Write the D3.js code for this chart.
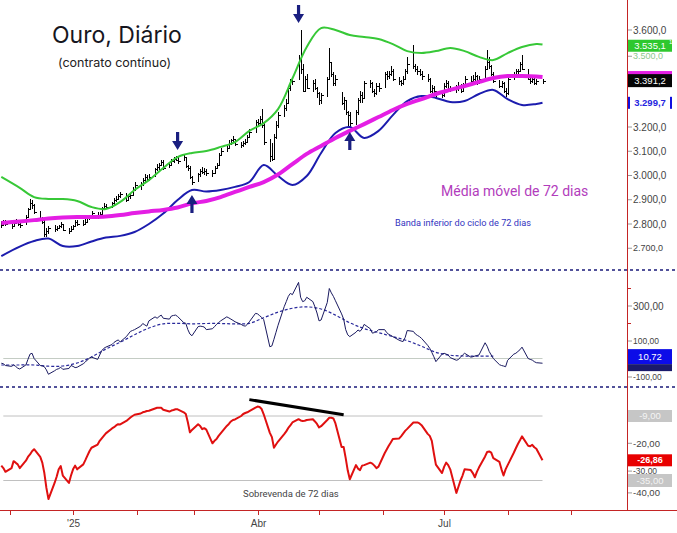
<!DOCTYPE html>
<html><head><meta charset="utf-8">
<script src="https://cdn.jsdelivr.net/npm/d3@7"></script>
<style>body{margin:0;background:#fff}svg{display:block}</style>
</head><body><svg id="c" width="677" height="533"></svg>
<script>
// ---------------- DATA ----------------
const firstDay = "2024-11-27", lastDay = "2025-08-18";   // daily bars (weekdays)
const high = [2812,2815,2818,2808,2815,2822,2815,2808,2838,2866,
 2902,2898,2882,2852,2828,2818,2782,2792,2795,2792,
 2796,2808,2802,2782,2790,2795,2818,2815,2815,2820,
 2832,2838,2852,2848,2848,2872,2885,2882,2892,2908,
 2915,2922,2932,2928,2920,2928,2952,2972,2975,2988,
 3005,3002,3005,3032,3048,3052,3065,3062,3052,3068,
 3078,3082,3075,3090,3078,3045,3038,3000,3012,3028,
 3035,3030,3028,3022,3038,3052,3092,3115,3122,3145,
 3150,3162,3152,3138,3142,3150,3168,3192,3228,3235,
 3245,3276,3215,3150,3135,3170,3225,3262,3292,3315,
 3370,3400,3400,3495,3600,3460,3410,3420,3392,3400,
 3365,3345,3340,3408,3527,3470,3425,3415,3345,3325,
 3310,3265,3260,3270,3318,3350,3345,3390,3392,3385,
 3355,3380,3380,3425,3430,3430,3450,3440,3405,3395,
 3410,3438,3490,3538,3460,3450,3440,3430,3420,3402,
 3375,3368,3350,3340,3380,3395,3390,3368,3375,3385,
 3378,3380,3412,3410,3415,3425,3415,3410,3450,3518,
 3490,3455,3425,3392,3390,3385,3362,3410,3428,3440,
 3440,3468,3497,3438,3405,3412,3408,3398,3400];
const low = [2785,2790,2792,2780,2786,2798,2792,2782,2795,2828,
 2858,2862,2842,2815,2800,2745,2748,2758,2768,2772,
 2780,2782,2770,2760,2765,2778,2788,2792,2790,2795,
 2805,2818,2825,2822,2825,2838,2860,2862,2868,2880,
 2892,2898,2908,2890,2895,2905,2915,2935,2940,2958,
 2975,2975,2978,2992,3018,3022,3038,3022,3030,3040,
 3052,3058,3048,3058,3032,3018,2985,2960,2975,2995,
 3005,3002,2998,2995,3005,3025,3040,3080,3095,3112,
 3125,3135,3120,3112,3118,3125,3135,3158,3175,3200,
 3205,3195,3125,3056,3060,3065,3150,3195,3240,3265,
 3295,3350,3375,3395,3420,3345,3350,3355,3345,3352,
 3320,3292,3295,3325,3395,3405,3370,3370,3290,3270,
 3250,3200,3195,3210,3250,3300,3300,3315,3360,3340,
 3325,3330,3345,3360,3395,3400,3410,3390,3375,3370,
 3375,3395,3420,3440,3425,3415,3410,3395,3385,3340,
 3335,3338,3318,3318,3325,3360,3345,3345,3340,3350,
 3340,3345,3365,3380,3382,3390,3372,3378,3395,3438,
 3440,3410,3380,3360,3362,3342,3324,3330,3395,3410,
 3415,3425,3435,3395,3378,3380,3373,3375,3378];
const close = [2795,2805,2800,2790,2805,2810,2800,2795,2830,2860,
 2885,2880,2850,2820,2810,2760,2770,2785,2780,2785,
 2790,2800,2775,2770,2780,2790,2810,2800,2800,2810,
 2825,2830,2845,2830,2840,2865,2875,2870,2885,2900,
 2905,2915,2925,2900,2915,2920,2945,2960,2965,2980,
 2995,2985,2995,3025,3035,3045,3055,3030,3045,3060,
 3070,3065,3060,3075,3040,3030,2995,2975,3005,3020,
 3015,3020,3010,3010,3030,3045,3085,3100,3115,3135,
 3145,3150,3130,3125,3135,3140,3160,3180,3220,3215,
 3235,3210,3140,3080,3070,3160,3210,3250,3280,3300,
 3360,3390,3390,3480,3440,3350,3400,3360,3380,3360,
 3340,3310,3330,3400,3470,3420,3380,3400,3300,3310,
 3260,3250,3215,3260,3310,3330,3320,3380,3380,3350,
 3340,3370,3360,3420,3410,3420,3430,3400,3390,3380,
 3400,3430,3460,3450,3440,3430,3420,3410,3400,3350,
 3360,3350,3320,3330,3370,3380,3350,3360,3360,3370,
 3350,3370,3400,3390,3400,3410,3380,3400,3440,3470,
 3450,3420,3390,3370,3380,3350,3340,3400,3420,3430,
 3430,3460,3440,3400,3390,3400,3380,3390,3391.2];
const momentum = [-27,-30,-40,-45,-37,-45,-55,-60,-37,-5,
 25,30,0,-40,-42,-47,-65,-90,-70,-62,
 -58,-50,-62,-57,-40,-45,-52,-50,-30,-20,
 -8,2,8,-5,20,45,58,65,80,92,
 100,106,95,125,140,155,160,165,185,200,
 192,185,215,238,230,240,248,230,225,243,
 246,248,240,205,201,165,140,130,182,185,
 183,180,165,170,182,195,205,215,238,232,
 225,218,210,195,188,185,195,210,258,255,
 245,235,222,67,72,110,150,190,296,325,
 355,372,365,435,350,325,330,350,325,295,
 260,215,220,320,400,375,355,330,255,225,
 165,135,125,150,163,155,170,195,170,145,
 148,153,165,165,148,138,132,125,105,100,
 97,120,160,155,140,132,125,115,75,58,
 35,10,-18,25,30,25,20,5,-10,-6,
 8,20,30,8,10,14,17,20,90,70,
 40,20,0,-35,-40,-43,-47,-10,25,30,
 40,50,65,0,-5,-9,-18,-24,-27];
const cycle = [-29,-30,-31.5,-30,-27.2,-27.8,-28.5,-30,-27,-25.5,
 -24.5,-23.2,-22.4,-25.5,-27.8,-32,-38,-42.5,-36,-33.5,
 -30.5,-29.2,-33,-36,-33,-30.5,-29,-30.5,-28.5,-26.8,
 -25,-23.2,-21.8,-20.5,-19,-18,-17,-16,-14,-13.5,
 -12.8,-12.3,-12.4,-11,-10.3,-9.6,-9,-8.5,-8,-7.5,
 -7.3,-7,-6.9,-6,-5.7,-5.7,-5.7,-6.5,-7.2,-6.8,
 -6.6,-6.3,-6.3,-7.5,-8.2,-11.5,-15.6,-14.6,-12.3,-13,
 -14.3,-13.9,-14.5,-20,-19,-18.3,-17,-16,-13,-12.2,
 -11.2,-10.6,-10.4,-9,-8.2,-7.8,-7.5,-7,-5.6,-5.2,
 -5.4,-6.2,-8.3,-15.8,-17.5,-21.8,-20.5,-19.3,-16.3,-15.2,
 -13.8,-12.8,-11.6,-10.3,-10.8,-11,-10.9,-10.6,-10.3,-11.2,
 -12.2,-13.6,-13.1,-10.6,-9.7,-9.7,-10,-12,-21.5,-21.5,
 -26,-31,-34.5,-28.8,-30.2,-30.8,-29,-28.8,-27.8,-28.2,
 -29,-30,-29.4,-24,-22.5,-21,-19.7,-18.3,-18.1,-17.2,
 -16.1,-15,-14.2,-11.6,-11.6,-11.6,-12,-12.7,-16.2,-17,
 -19,-24,-28.6,-32,-29.5,-27.8,-28.8,-30.5,-40,-37.5,
 -35,-33,-30.5,-30.8,-32,-33.7,-31.5,-29.8,-25.3,-23.5,
 -23.3,-23.8,-26,-27.5,-30.5,-33,-30.5,-28.8,-23.8,-22,
 -20.3,-18.8,-17.2,-21,-21.2,-20.6,-21.6,-22.2,-26.86];
const bandDates = ["2024-11-27","2024-12-06","2024-12-13","2024-12-20","2024-12-27","2025-01-03","2025-01-10","2025-01-17","2025-01-24","2025-01-31",
 "2025-02-07","2025-02-14","2025-02-21","2025-02-28","2025-03-07","2025-03-14","2025-03-21","2025-03-28","2025-04-04","2025-04-11",
 "2025-04-18","2025-04-25","2025-05-02","2025-05-09","2025-05-16","2025-05-23","2025-05-30","2025-06-06","2025-06-13","2025-06-20",
 "2025-06-27","2025-07-04","2025-07-11","2025-07-18","2025-07-25","2025-08-01","2025-08-08","2025-08-15","2025-08-18"];
const upperBand = [2994,2949,2911,2903,2903,2895,2870,2862,2891,2940,
 2981,3031,3076,3093,3101,3118,3138,3184,3216,3274,
 3400,3530,3608,3600,3579,3571,3563,3542,3513,3505,
 3513,3526,3513,3489,3476,3505,3530,3542,3540];
const movingAvg = [2804,2810,2816,2823,2827,2829,2829,2831,2837,2845,
 2852,2858,2868,2885,2895,2911,2932,2953,2973,3004,
 3047,3089,3122,3155,3184,3212,3241,3270,3295,3315,
 3336,3353,3369,3386,3402,3410,3410,3408,3406];
const lowerBand = [2668,2707,2730,2740,2709,2709,2728,2744,2751,2767,
 2800,2843,2899,2940,2934,2940,2953,2973,3043,2998,
 2961,2998,3093,3175,3200,3155,3184,3249,3307,3328,
 3320,3303,3307,3336,3353,3315,3291,3295,3299.7];
const signal = [-37,-37,-37,-44,-43,-26,9,54,93,136,
 174,198,201,198,200,200,198,201,233,265,
 287,295,283,248,204,171,148,125,102,70,
 35,19,14,14,14];
const priceTicks = [3600,3500,3300,3200,3100,3000,2900,2800,2700];
const momTicks = [300,100,-100], momMinor = [400,200];
const cycTicks = [-20,-30,-40], cycLevels = [-9,-35];
const monthLabels = {"2025-01":"'25","2025-04":"Abr","2025-07":"Jul"};
const lastUpper = 3535.1, lastMA = 3406, lastClose = 3391.2, lastLower = 3299.7, lastMom = 10.72, lastCyc = -26.86;
const arrows = [{date:"2025-02-21",value:3105,dir:"down"},{date:"2025-04-21",value:3629,dir:"down"},
                {date:"2025-02-28",value:2920,dir:"up"},{date:"2025-05-16",value:3179,dir:"up"}];
const trend = [{date:"2025-03-28",value:-2.4},{date:"2025-05-13",value:-8.5}];

// ---------------- CHART ----------------
const parse = d3.utcParse("%Y-%m-%d");
const days = d3.utcDays(parse(firstDay), d3.utcDay.offset(parse(lastDay),1))
  .filter(d => d.getUTCDay()!==0 && d.getUTCDay()!==6);
const N = Math.min(days.length, close.length);
const svg = d3.select("#c");
svg.append("rect").attr("width",677).attr("height",533).attr("fill","#fff");

const AX = 627;
const x = d3.scaleUtc().domain([new Date(Date.UTC(2024,11,1)), new Date(Date.UTC(2025,8,1))]).range([9.5,571.2]);
const yP = d3.scaleLinear().domain([2700,3600]).range([248.25,30]);
const yM = d3.scaleLinear().domain([-100,300]).range([376,306]);
const yC = d3.scaleLinear().domain([-35,-9]).range([480.5,416]);
const loc = d3.formatLocale({decimal:",",thousands:".",grouping:[3],currency:["",""],minus:"-"});
const f1 = loc.format(",.1f"), f2 = loc.format(",.2f");
const FONT = "'Liberation Sans', Arial, sans-serif";

const defs = svg.append("defs");
defs.append("clipPath").attr("id","cp").append("rect").attr("x",0).attr("y",0).attr("width",AX).attr("height",266);
defs.append("clipPath").attr("id","cm").append("rect").attr("x",0).attr("y",271).attr("width",AX).attr("height",115);
defs.append("clipPath").attr("id","cc").append("rect").attr("x",0).attr("y",388).attr("width",AX).attr("height",121);

// price panel
const gP = svg.append("g").attr("clip-path","url(#cp)");
const bars = gP.append("g").attr("stroke","#000").attr("stroke-width",1).attr("shape-rendering","crispEdges");
for (let i=0;i<N;i++){
  const xi = Math.round(x(days[i]))+0.5;
  bars.append("line").attr("x1",xi).attr("x2",xi).attr("y1",yP(high[i])).attr("y2",yP(low[i]));
  bars.append("line").attr("x1",xi).attr("x2",xi+2).attr("y1",Math.round(yP(close[i]))+0.5).attr("y2",Math.round(yP(close[i]))+0.5);
}
const bd = bandDates.map(parse);
const bandLine = (arr,ys) => d3.line().x((d,i)=>x(bd[i])).y(d=>ys(d)).curve(d3.curveCatmullRom.alpha(0.5))(arr);
gP.append("path").attr("d",bandLine(upperBand,yP)).attr("fill","none").attr("stroke","#37c837").attr("stroke-width",2);
gP.append("path").attr("d",bandLine(lowerBand,yP)).attr("fill","none").attr("stroke","#1c1cae").attr("stroke-width",2);
gP.append("path").attr("d",bandLine(movingAvg,yP)).attr("fill","none").attr("stroke","#e41ee4").attr("stroke-width",4);

// arrows
arrows.forEach(a=>{
  const ax = x(parse(a.date)), ay = yP(a.value), s = a.dir==="down" ? -1 : 1;
  const L = 18, H = 9, W = 5.5;
  gP.append("path").attr("fill","#1a1f80")
    .attr("d",`M${ax},${ay} L${ax-W},${ay+s*H} L${ax-1.6},${ay+s*H} L${ax-1.6},${ay+s*L} L${ax+1.6},${ay+s*L} L${ax+1.6},${ay+s*H} L${ax+W},${ay+s*H} Z`);
});

// texts
svg.append("text").attr("x",52).attr("y",43).attr("font-family","Inter, 'Open Sans', sans-serif").attr("font-size",23).attr("fill","#16161e").text("Ouro, Diário");
svg.append("text").attr("x",58).attr("y",67).attr("font-family","Inter, 'Open Sans', sans-serif").attr("font-size",12.5).attr("fill","#222").text("(contrato contínuo)");
svg.append("text").attr("x",441).attr("y",196).attr("font-family","Roboto, sans-serif").attr("font-size",14).attr("fill","#b23cbc").text("Média móvel de 72 dias");
svg.append("text").attr("x",395).attr("y",226).attr("font-family","Roboto, sans-serif").attr("font-size",9.2).attr("fill","#3434c0").text("Banda inferior do ciclo de 72 dias");
svg.append("text").attr("x",243).attr("y",497).attr("font-family","Roboto, sans-serif").attr("font-size",9.5).attr("fill","#444").text("Sobrevenda de 72 dias");

// separators
[270,387].forEach(y=>svg.append("line").attr("x1",0).attr("x2",677).attr("y1",y).attr("y2",y)
  .attr("stroke","#1a1a7a").attr("stroke-width",1.3).attr("stroke-dasharray","3,3"));

// momentum panel
const gM = svg.append("g").attr("clip-path","url(#cm)");
gM.append("line").attr("x1",x(days[0])+2).attr("x2",x(days[N-1])).attr("y1",yM(0)).attr("y2",yM(0)).attr("stroke","#c4ccc4");
gM.append("path").attr("d",d3.line().x((d,i)=>x(bd[i])).y(d=>yM(d)).curve(d3.curveCatmullRom)(signal))
  .attr("fill","none").attr("stroke","#2a2a9c").attr("stroke-width",1.2).attr("stroke-dasharray","3,2");
gM.append("path").attr("d",d3.line().x((d,i)=>x(days[i])).y(d=>yM(d))(momentum.slice(0,N)))
  .attr("fill","none").attr("stroke","#1a1a60").attr("stroke-width",1);

// cycle panel
const gC = svg.append("g").attr("clip-path","url(#cc)");
cycLevels.forEach(v=>gC.append("line").attr("x1",x(days[0])+2).attr("x2",x(days[N-1])).attr("y1",yC(v)).attr("y2",yC(v)).attr("stroke","#c0c0c0"));
gC.append("path").attr("d",d3.line().x((d,i)=>x(days[i])).y(d=>yC(d))(cycle.slice(0,N)))
  .attr("fill","none").attr("stroke","#e01010").attr("stroke-width",2).attr("stroke-linejoin","round");
gC.append("path").attr("d",d3.line().x(d=>x(parse(d.date))).y(d=>yC(d.value))(trend))
  .attr("stroke","#000").attr("stroke-width",3);

// right axis
svg.append("line").attr("x1",AX+0.5).attr("x2",AX+0.5).attr("y1",0).attr("y2",510).attr("stroke","#c42424");
function tickLabel(y, txt, size, color){
  svg.append("line").attr("x1",AX+1).attr("x2",AX+5).attr("y1",y).attr("y2",y).attr("stroke","#999");
  svg.append("text").attr("x",AX+6).attr("y",y).attr("dy","0.35em").attr("font-family",FONT).attr("font-size",size).attr("fill",color||"#444").text(txt);
}
priceTicks.forEach(v=>tickLabel(yP(v)+(v===3500?2:0), f1(v), v===2700?9:(v===3500?9:10), v===3500?"#8bc88b":"#444"));
momMinor.forEach(v=>svg.append("line").attr("x1",AX).attr("x2",AX+4).attr("y1",yM(v)).attr("y2",yM(v)).attr("stroke","#c42424"));
momTicks.forEach(v=>tickLabel(yM(v)+(v===-100?1:0), f2(v), v===300?10:8.5));
cycTicks.forEach(v=>tickLabel(yC(v)+(v===-30?3:0), f2(v), v===-30?8.5:9.5));

function badge(y,h,fill,txt,tcolor,opts={}){
  svg.append("rect").attr("x",AX+1).attr("y",y-h/2).attr("width",44).attr("height",h).attr("fill",fill);
  if (txt) svg.append("text").attr("x",AX+23).attr("y",y).attr("dy","0.35em").attr("text-anchor","middle")
    .attr("font-family",FONT).attr("font-size",opts.size||9.5).attr("font-weight",opts.bold?"bold":"normal")
    .attr("fill",tcolor).text(txt);
}
badge(yP(lastUpper),12,"#2ec82e",f1(lastUpper),"#fff");
svg.append("text").attr("x",AX+42).attr("y",yP(lastUpper)-2).attr("font-family",FONT).attr("font-size",6).attr("fill","#fff").text("1");
badge(yP(lastMA),12,"#e41ee4","", "#fff");
badge(yP(lastClose),13,"#050505",f1(lastClose),"#fff");
badge(yP(lastLower),12,"#fff",f1(lastLower),"#2424e0",{bold:true});
svg.append("rect").attr("x",AX+1).attr("y",yP(lastLower)-6).attr("width",2).attr("height",12).attr("fill","#1010e0");
svg.append("rect").attr("x",AX+43).attr("y",yP(lastLower)-6).attr("width",2).attr("height",12).attr("fill","#1010e0");
badge(yM(lastMom),15,"#0c0ce8",f2(lastMom),"#fff");
svg.append("rect").attr("x",AX+1).attr("y",yM(lastMom)+7.5).attr("width",44).attr("height",7).attr("fill","#1a1a6c");
badge(yC(cycLevels[0]),12,"#c6c6c6",f2(cycLevels[0]),"#f4f4f4");
badge(yC(cycLevels[1]),13,"#c6c6c6",f2(cycLevels[1]),"#f4f4f4");
badge(yC(lastCyc),12,"#e80000",f2(lastCyc),"#fff",{bold:true,size:9});

// bottom axis
svg.append("line").attr("x1",0).attr("x2",677).attr("y1",510.5).attr("y2",510.5).attr("stroke","#c42424");
const months = d3.utcMonths(new Date(Date.UTC(2024,11,1)), new Date(Date.UTC(2025,8,2)));
const fmtM = d3.utcFormat("%Y-%m");
months.forEach(m=>{
  const mx = Math.round(x(m))+0.5;
  svg.append("line").attr("x1",mx).attr("x2",mx).attr("y1",510).attr("y2",515).attr("stroke","#c42424");
  const lab = monthLabels[fmtM(m)];
  if (lab) svg.append("text").attr("x",mx).attr("y",527).attr("text-anchor","middle").attr("font-family",FONT)
    .attr("font-size",10).attr("fill","#444").text(lab);
});
</script></body></html>
